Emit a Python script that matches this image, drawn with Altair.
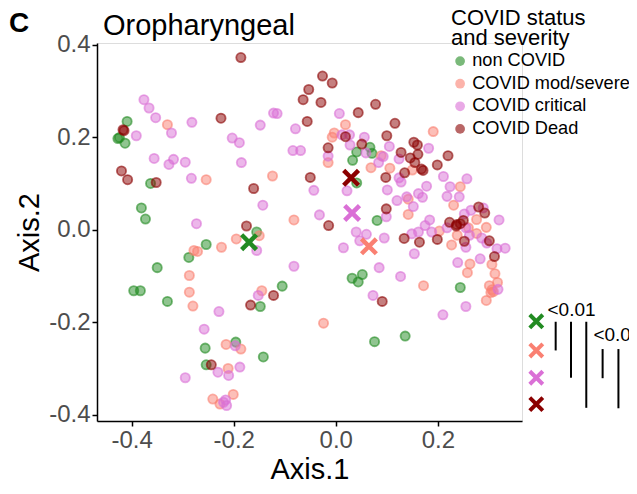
import altair as alt
import pandas as pd

groups = ["non COVID", "COVID mod/severe", "COVID critical", "COVID Dead"]
colors = ["#228B22", "#FA8072", "#DA70D6", "#8B0000"]

non_x = [-0.409, -0.427, -0.424, -0.413, -0.363, -0.381, -0.373, -0.155, -0.254, -0.288, -0.350,
         -0.396, -0.383, -0.330, -0.105, -0.148, -0.196, -0.256, -0.142, -0.254, 0.067, 0.041,
         0.033, 0.071, 0.041, 0.081, 0.032, 0.052, 0.044, 0.244, 0.076, 0.136]
non_y = [0.234, 0.197, 0.199, 0.187, 0.100, 0.047, 0.023, -0.005, -0.032, -0.060, -0.082,
         -0.132, -0.132, -0.155, -0.122, -0.166, -0.243, -0.256, -0.275, -0.292, 0.178, 0.168,
         0.150, 0.165, 0.101, 0.020, -0.105, -0.097, -0.113, -0.125, -0.242, -0.230]

mod_x = [-0.330, -0.254, -0.124, -0.082, -0.150, -0.195, -0.224, -0.278, -0.271, -0.287, -0.287,
         -0.280, -0.145, -0.215, -0.186, -0.211, -0.201, -0.241, -0.227, 0.019, 0.191, -0.003,
         -0.007, 0.089, -0.015, 0.069, 0.106, 0.150, 0.244, 0.142, 0.231, 0.142, 0.276, 0.295,
         0.260, 0.203, 0.238, 0.276, 0.227, 0.263, 0.258, 0.306, 0.312, 0.317, 0.301, 0.306,
         0.309, 0.304, 0.295, 0.172, -0.024]
mod_y = [0.227, 0.108, 0.116, 0.021, -0.013, -0.020, -0.038, -0.045, -0.047, -0.099, -0.135,
         -0.165, -0.132, -0.248, -0.258, -0.300, -0.356, -0.366, -0.377, 0.227, 0.212, 0.209,
         0.200, 0.160, 0.145, 0.134, 0.133, 0.129, 0.093, 0.066, 0.053, 0.033, 0.022, 0.005,
         0.004, -0.003, -0.012, -0.008, -0.033, -0.074, -0.093, -0.075, -0.095, -0.114, -0.121,
         -0.130, -0.134, -0.136, -0.153, -0.121, -0.202]

crit_x = [-0.376, -0.366, -0.353, -0.282, -0.148, -0.122, -0.115, -0.079, -0.391, -0.322, -0.203,
          -0.189, -0.084, -0.069, -0.356, -0.318, -0.327, -0.295, -0.185, -0.283, -0.143, -0.273,
          -0.043, -0.032, -0.155, -0.082, -0.152, -0.229, -0.258, -0.197, -0.188, -0.231, -0.210,
          -0.295, -0.216, -0.214, -0.220, 0.007, 0.012, 0.027, 0.056, 0.028, 0.105, 0.182,
          -0.015, 0.059, 0.093, 0.124, 0.084, 0.124, 0.128, 0.211, 0.257, 0.178, 0.224, 0.022,
          0.101, 0.162, 0.170, 0.139, 0.218, 0.242, 0.120, 0.152, 0.252, 0.265, 0.289, 0.099,
          0.184, 0.320, 0.175, 0.162, 0.149, 0.188, 0.218, 0.255, 0.286, 0.296, 0.255, 0.316,
          0.332, 0.154, 0.040, 0.060, 0.047, 0.095, 0.015, 0.283, 0.239, 0.085, 0.127, 0.318,
          0.073, 0.255, 0.210, 0.262]
crit_y = [0.281, 0.263, 0.242, 0.232, 0.226, 0.252, 0.251, 0.218, 0.203, 0.209, 0.198,
          0.188, 0.171, 0.171, 0.154, 0.152, 0.141, 0.146, 0.145, 0.111, 0.053, 0.013,
          0.085, 0.032, -0.045, -0.079, -0.142, -0.177, -0.215, -0.251, -0.297, -0.308, -0.315,
          -0.320, -0.368, -0.380, -0.373, 0.251, 0.205, 0.205, 0.200, 0.183, 0.180, 0.176,
          0.159, 0.166, 0.158, 0.153, 0.145, 0.112, 0.103, 0.115, 0.110, 0.094, 0.093, 0.084,
          0.086, 0.078, 0.070, 0.071, 0.072, 0.071, 0.063, 0.050, 0.034, 0.042, 0.047, 0.028,
          0.021, 0.021, 0.009, -0.005, -0.009, -0.005, 0.004, 0.004, -0.018, -0.029, -0.038, -0.041,
          -0.040, -0.052, -0.005, -0.010, -0.024, -0.018, -0.039, -0.063, -0.071, -0.082, -0.101, -0.129,
          -0.142, -0.166, -0.184, -0.012]

dead_x = [-0.186, -0.053, -0.064, -0.225, -0.056, -0.417, -0.415, -0.420, -0.408, -0.352, -0.050,
          -0.161, -0.175, -0.167, -0.122, -0.244, -0.026, -0.007, -0.029, 0.078, 0.044, 0.116,
          0.019, 0.100, 0.051, -0.015, 0.153, 0.160, 0.128, 0.161, 0.220, 0.146, 0.155, 0.199,
          0.168, 0.171, 0.135, 0.098, 0.099, 0.280, 0.292, 0.223, 0.237, 0.244, 0.250, 0.236,
          -0.014, 0.134, 0.164, 0.199, 0.252, 0.301, 0.311, 0.091]
dead_y = [0.372, 0.303, 0.281, 0.241, 0.234, 0.216, 0.214, 0.127, 0.108, 0.102, 0.113,
          0.089, 0.008, -0.163, -0.142, -0.292, 0.332, 0.317, 0.275, 0.271, 0.253, 0.230,
          0.201, 0.203, 0.185, 0.177, 0.189, 0.183, 0.167, 0.163, 0.160, 0.155, 0.145, 0.140,
          0.131, 0.128, 0.123, 0.113, 0.045, 0.049, 0.036, 0.016, 0.011, 0.013, 0.020, 0.008,
          0.009, -0.019, -0.027, -0.021, -0.025, -0.024, -0.058, -0.155]

# group centroids
cent_x = [-0.170, 0.065, 0.032, 0.030]
cent_y = [-0.027, -0.036, 0.036, 0.112]

# significance key (right of the panel)
key_x = [0.393, 0.393, 0.393, 0.393]
key_y = [-0.198, -0.261, -0.320, -0.377]
bar_x = [0.431, 0.461, 0.491, 0.523, 0.554]
bar_y1 = [-0.199, -0.199, -0.199, -0.258, -0.258]
bar_y2 = [-0.261, -0.320, -0.385, -0.321, -0.386]
sig_text = ["<0.01", "<0.05"]
sig_x = [0.415, 0.505]
sig_y = [-0.174, -0.228]

panel_letter = ["C"]
panel_title = ["Oropharyngeal"]

FONT = "Liberation Sans"
XPATH = "M-1,-1L1,1M-1,1L1,-1"

rows = []
for g, xs, ys in [(groups[0], non_x, non_y), (groups[1], mod_x, mod_y),
                  (groups[2], crit_x, crit_y), (groups[3], dead_x, dead_y)]:
    for a, b in zip(xs, ys):
        rows.append({"x": a, "y": b, "group": g})
pts = pd.DataFrame(rows)
cent = pd.DataFrame({"x": cent_x, "y": cent_y, "group": groups})
key = pd.DataFrame({"x": key_x, "y": key_y, "group": groups})
bars = pd.DataFrame({"x": bar_x, "y": bar_y1, "y2": bar_y2})
sig = pd.DataFrame({"x": sig_x, "y": sig_y, "label": sig_text})
letter_df = pd.DataFrame({"label": panel_letter})
title_df = pd.DataFrame({"label": panel_title})

xs_scale = alt.Scale(domain=[-0.468, 0.365], nice=False, zero=False)
ys_scale = alt.Scale(domain=[-0.4135, 0.4035], nice=False, zero=False)
col_scale = alt.Scale(domain=groups, range=colors)

lab_expr = "datum.value < 0 ? '-' + format(abs(datum.value), '.1f') : format(datum.value, '.1f')"
common_axis = dict(labelExpr=lab_expr, labelFontSize=24, labelColor="#4D4D4D", labelFont=FONT,
                   titleFontSize=29, titleFont=FONT, titleColor="black", titleFontWeight="normal",
                   domainColor="black", domainWidth=1.5, tickColor="black", tickWidth=1.5,
                   tickSize=5, labelPadding=2, grid=False)
x_enc = alt.X("x:Q", scale=xs_scale, title="Axis.1",
              axis=alt.Axis(values=[-0.4, -0.2, 0.0, 0.2], titlePadding=3, **common_axis))
y_enc = alt.Y("y:Q", scale=ys_scale, title="Axis.2",
              axis=alt.Axis(values=[-0.4, -0.2, 0.0, 0.2, 0.4], titlePadding=4, **common_axis))

legend = alt.Legend(title=["COVID status", "and severity"], orient="none", legendX=354, legendY=-35,
                    titleFontSize=22, titleFont=FONT, titleFontWeight="normal", titleColor="black",
                    titleLineHeight=20, titlePadding=2, titleLimit=0, labelFontSize=18.2, labelFont=FONT,
                    labelColor="black", labelLimit=0, symbolType="circle", symbolSize=95,
                    symbolOpacity=0.6, symbolStrokeWidth=0, rowPadding=3.6, labelOffset=3, padding=0)

points = alt.Chart(pts).mark_point(filled=True, size=85, fillOpacity=0.5, strokeOpacity=0.6,
                                   strokeWidth=1.8).encode(
    x=x_enc, y=y_enc,
    color=alt.Color("group:N", scale=col_scale, legend=legend, sort=groups),
    stroke=alt.Stroke("group:N", scale=col_scale, legend=None),
)

centroids = alt.Chart(cent).mark_point(shape=XPATH, filled=False, size=220, strokeWidth=4.5,
                                       opacity=1).encode(
    x=x_enc, y=y_enc,
    stroke=alt.Stroke("group:N", scale=col_scale, legend=None),
)

keymarks = alt.Chart(key).mark_point(shape=XPATH, filled=False, size=170, strokeWidth=4,
                                     opacity=1).encode(
    x=x_enc, y=y_enc,
    stroke=alt.Stroke("group:N", scale=col_scale, legend=None),
)

barlines = alt.Chart(bars).mark_rule(color="black", strokeWidth=2).encode(
    x=x_enc, y=y_enc, y2="y2:Q")

sigtext = alt.Chart(sig).mark_text(align="left", baseline="middle", fontSize=19, font=FONT,
                                   color="black").encode(x=x_enc, y=y_enc, text="label:N")

letter = alt.Chart(letter_df).mark_text(align="left", baseline="alphabetic", fontSize=28,
                                        font=FONT, fontWeight="bold", color="black").encode(
    x=alt.value(-88), y=alt.value(-11), text="label:N")

ptitle = alt.Chart(title_df).mark_text(align="left", baseline="alphabetic", fontSize=29,
                                       font=FONT, color="black").encode(
    x=alt.value(6), y=alt.value(-8), text="label:N")

chart = alt.layer(points, centroids, keymarks, barlines, sigtext, letter, ptitle).properties(
    width=425, height=378,
    autosize=alt.AutoSizeParams(type="none"),
    padding={"left": 89, "top": 35, "right": 107, "bottom": 64},
).configure_view(stroke=None).configure(background="white")

chart.save("out.html", embed_options={"renderer": "svg", "actions": False})
